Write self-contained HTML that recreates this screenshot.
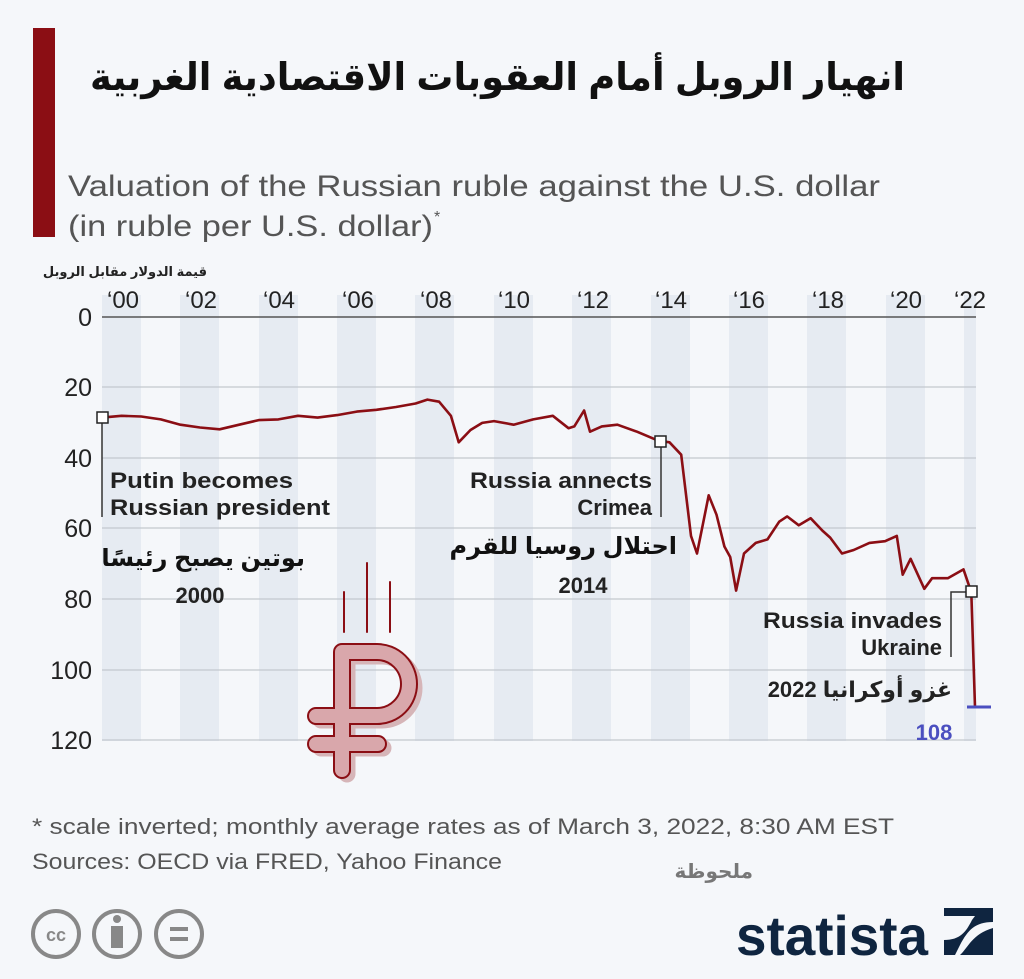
<!DOCTYPE html>
<html><head><meta charset="utf-8"><style>
html,body{margin:0;padding:0;background:#f5f7fa}
svg{display:block}
text{font-family:"Liberation Sans","Noto Sans CJK SC","DejaVu Sans",sans-serif}
</style></head><body>
<svg width="1024" height="979" viewBox="0 0 1024 979" xmlns="http://www.w3.org/2000/svg">
<rect width="1024" height="979" fill="#f5f7fa"/>
<rect x="33" y="28" width="22" height="209" fill="#8b0e14"/>
<text x="905" y="90" text-anchor="end" font-size="38" font-weight="bold" fill="#111" textLength="815" lengthAdjust="spacingAndGlyphs">انهيار الروبل أمام العقوبات الاقتصادية الغربية</text>
<text x="68" y="196" font-size="30" fill="#555" textLength="812" lengthAdjust="spacingAndGlyphs">Valuation of the Russian ruble against the U.S. dollar</text>
<text x="68" y="236" font-size="30" fill="#555" textLength="365" lengthAdjust="spacingAndGlyphs">(in ruble per U.S. dollar)</text>
<text x="434" y="222" font-size="16" fill="#555">*</text>
<text x="207" y="276" text-anchor="end" font-size="13" font-weight="bold" fill="#222">قيمة الدولار مقابل الروبل</text>
<!-- bands -->
<g fill="#e6ebf2">
<rect x="102" y="295" width="39" height="446"/>
<rect x="180" y="295" width="39" height="446"/>
<rect x="259" y="295" width="39" height="446"/>
<rect x="337" y="295" width="39" height="446"/>
<rect x="415" y="295" width="39" height="446"/>
<rect x="494" y="295" width="39" height="446"/>
<rect x="572" y="295" width="39" height="446"/>
<rect x="651" y="295" width="39" height="446"/>
<rect x="729" y="295" width="39" height="446"/>
<rect x="807" y="295" width="39" height="446"/>
<rect x="886" y="295" width="39" height="446"/>
<rect x="964" y="295" width="12" height="446"/>
</g>
<g stroke="#c4c8ce" stroke-width="1.2">
<line x1="102" y1="387" x2="976" y2="387"/>
<line x1="102" y1="458" x2="976" y2="458"/>
<line x1="102" y1="528" x2="976" y2="528"/>
<line x1="102" y1="599" x2="976" y2="599"/>
<line x1="102" y1="670" x2="976" y2="670"/>
<line x1="102" y1="740" x2="976" y2="740"/>
</g>
<line x1="102" y1="317" x2="976" y2="317" stroke="#555" stroke-width="1.5"/>
<g font-size="25" fill="#222" text-anchor="end">
<text x="92" y="326">0</text><text x="92" y="396">20</text><text x="92" y="467">40</text>
<text x="92" y="537">60</text><text x="92" y="608">80</text><text x="92" y="679">100</text><text x="92" y="749">120</text>
</g>
<g font-size="24" fill="#222" text-anchor="middle">
<text x="123" y="308">‘00</text><text x="201" y="308">‘02</text><text x="279" y="308">‘04</text>
<text x="358" y="308">‘06</text><text x="436" y="308">‘08</text><text x="514" y="308">‘10</text>
<text x="593" y="308">‘12</text><text x="671" y="308">‘14</text><text x="749" y="308">‘16</text>
<text x="828" y="308">‘18</text><text x="906" y="308">‘20</text><text x="970" y="308">‘22</text>
</g>
<!-- ruble icon -->
<g fill="none" stroke-linecap="round" stroke-linejoin="round">
<line x1="344" y1="592" x2="344" y2="632" stroke="#8b0e14" stroke-width="2"/>
<line x1="367" y1="563" x2="367" y2="632" stroke="#8b0e14" stroke-width="2"/>
<line x1="390" y1="582" x2="390" y2="632" stroke="#8b0e14" stroke-width="2"/>
<path d="M347,774 V656 H382 A32,32 0 0 1 382,720 H321 M321,748 H383" stroke="#d6b5b8" stroke-width="17"/>
<path d="M342,770 V652 H377 A32,32 0 0 1 377,716 H316 M316,744 H378" stroke="#8b0e14" stroke-width="18"/>
<path d="M342,770 V652 H377 A32,32 0 0 1 377,716 H316 M316,744 H378" stroke="#d9a7ab" stroke-width="14"/>
</g>
<!-- annotation lines -->
<g stroke="#333" stroke-width="1.5" fill="none">
<line x1="102" y1="420" x2="102" y2="517"/>
<line x1="661" y1="442" x2="661" y2="517"/>
<polyline points="966,592 951,592 951,657"/>
</g>
<polyline fill="none" stroke="#8b0e14" stroke-width="2.6" stroke-linejoin="round" points="102,417.6 121.6,415.8 141.2,416.5 160.8,419.4 180.4,424.7 200,427.5 219.6,429.3 239.2,424.7 258.8,420.1 278.4,419.4 298,415.8 317.6,417.6 337.2,415.1 356.8,411.6 376.4,409.8 396,407 415.6,403.5 427.4,399.6 439.1,401.7 450.9,415.8 458.7,442.3 470.5,430 482.2,422.9 494,421.1 513.6,424.7 533.2,419.4 552.8,415.8 568.5,428.2 574.3,426.4 584.1,410.5 590,431.7 601.8,426.4 617.4,424.7 637,431.7 658,440.6 669.5,442.3 681.2,454.7 691,535.9 697,553.5 708.7,495.3 716.5,514.7 724.4,546.5 730.2,557 736.1,590.6 744,553.5 755.8,542.9 767.5,539.4 779.2,521.7 787.1,516.4 798.8,525.3 810.6,518.2 822.4,530.6 830.2,537.6 842,553.5 853.7,550 869.4,542.9 885.1,541.2 896.8,535.9 902.7,574.7 910.6,558.8 924.3,588.8 932.1,578.2 947.8,578.2 963.5,569.4 971.3,592.3 975,707"/>
<line x1="967" y1="707" x2="991" y2="707" stroke="#4b4fc0" stroke-width="3"/>
<g fill="#fff" stroke="#222" stroke-width="1.5">
<rect x="97" y="412" width="11" height="11"/>
<rect x="655" y="436" width="11" height="11"/>
<rect x="966" y="586" width="11" height="11"/>
</g>
<g font-size="22" fill="#222" font-weight="bold">
<text x="110" y="488" textLength="183" lengthAdjust="spacingAndGlyphs">Putin becomes</text>
<text x="110" y="515" textLength="220" lengthAdjust="spacingAndGlyphs">Russian president</text>
<text x="470" y="488" textLength="182" lengthAdjust="spacingAndGlyphs">Russia annects</text>
<text x="652" y="515" text-anchor="end">Crimea</text>
<text x="763" y="628" textLength="179" lengthAdjust="spacingAndGlyphs">Russia invades</text>
<text x="942" y="655" text-anchor="end">Ukraine</text>
<text x="200" y="603" text-anchor="middle">2000</text>
<text x="583" y="593" text-anchor="middle">2014</text>
<text x="952" y="697" text-anchor="end">2022 غزو أوكرانيا</text>
</g>
<text x="305" y="566" text-anchor="end" font-size="24" font-weight="bold" fill="#111">بوتين يصبح رئيسًا</text>
<text x="677" y="554" text-anchor="end" font-size="24" font-weight="bold" fill="#111">احتلال روسيا للقرم</text>
<text x="934" y="740" text-anchor="middle" font-size="22" font-weight="bold" fill="#4b4fc0">108</text>
<text x="32" y="834" font-size="22" fill="#555" textLength="862" lengthAdjust="spacingAndGlyphs">* scale inverted; monthly average rates as of March 3, 2022, 8:30 AM EST</text>
<text x="32" y="869" font-size="22" fill="#555" textLength="470" lengthAdjust="spacingAndGlyphs">Sources: OECD via FRED, Yahoo Finance</text>
<text x="753" y="878" text-anchor="end" font-size="20" font-weight="bold" fill="#777">ملحوظة</text>
<g fill="none" stroke="#888" stroke-width="4">
<circle cx="56" cy="934" r="23"/><circle cx="117" cy="934" r="23"/><circle cx="179" cy="934" r="23"/>
</g>
<text x="56" y="941" text-anchor="middle" font-size="18" font-weight="bold" fill="#888">cc</text>
<circle cx="117" cy="919" r="4" fill="#888"/>
<rect x="111" y="926" width="12" height="22" fill="#888"/>
<rect x="170" y="927" width="18" height="4" fill="#888"/><rect x="170" y="937" width="18" height="4" fill="#888"/>
<text x="736" y="955" font-size="56" font-weight="bold" fill="#0f2540" textLength="192" lengthAdjust="spacingAndGlyphs">statista</text>
<path d="M944,908 H993 V922 C975,922 968,930 960,945 L955,955 H944 V940 C960,940 966,932 972,920 L975,916 H944 Z" fill="#0f2540"/>
<path d="M993,928 V955 H960 C968,948 972,934 993,928 Z" fill="#0f2540"/>
</svg>
</body></html>
